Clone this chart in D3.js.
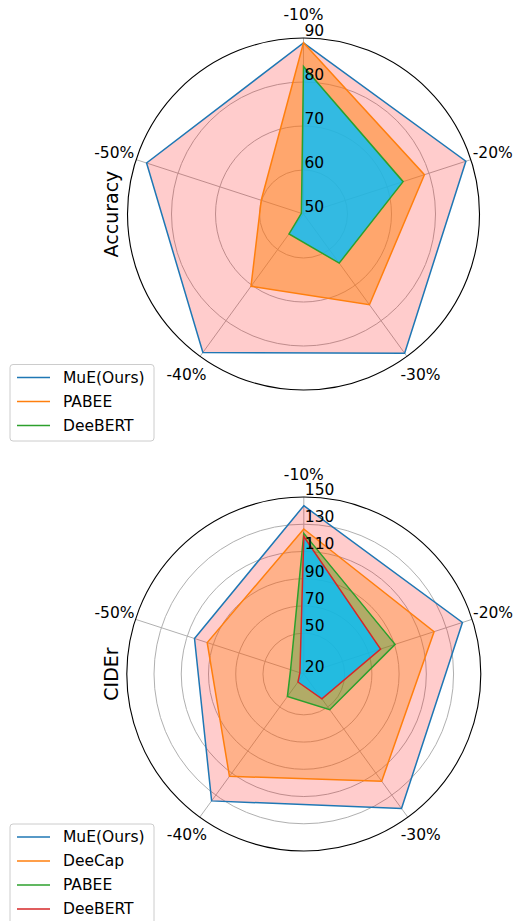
<!DOCTYPE html>
<html>
<head>
<meta charset="utf-8">
<script src="https://cdn.jsdelivr.net/npm/d3@7"></script>
<style>
  body { margin: 0; background: #fff; }
  svg { display: block; font-family: "DejaVu Sans", sans-serif; }
</style>
</head>
<body>
<div id="chart"></div>
<script>
// axis categories (clockwise from the top)
let axes = ["-10%", "-20%", "-30%", "-40%", "-50%"];

// top chart: accuracy
let accNames = ["MuE(Ours)", "PABEE", "DeeBERT"];
let accMuE = [88.9, 88.8, 89.1, 88.9, 87.5];
let accPABEE = [88.9, 78.9, 75.5, 70.3, 60.1];
let accDeeBERT = [83.5, 73.8, 63.8, 55.6, 50.5];
let accTicks = [50, 60, 70, 80, 90];

// bottom chart: CIDEr
let ciderNames = ["MuE(Ours)", "DeeCap", "PABEE", "DeeBERT"];
let ciderMuE = [143.6, 142.5, 142.1, 135.2, 104.4];
let ciderDeeCap = [126.5, 120.6, 117.3, 112.9, 94.6];
let ciderPABEE = [123.3, 90.5, 52.4, 40.5, 30.2];
let ciderDeeBERT = [121.0, 79.3, 42.6, 27.3, 23.0];
let ciderTicks = [20, 50, 70, 90, 110, 130, 150];

let width = 516, height = 921;
let svg = d3.select("#chart").append("svg")
    .attr("width", width)
    .attr("height", height);

function radar(opts) {
    let cx = opts.cx, cy = opts.cy, R = opts.R;
    let g = svg.append("g").attr("transform", `translate(${cx},${cy})`);
    let r = d3.scaleLinear().domain(opts.domain).range([0, R]);
    let angle = d3.scalePoint().domain(axes).range([0, 2 * Math.PI * 4 / 5]);

    // grid rings
    g.selectAll("circle.ring")
        .data(opts.ticks.filter(t => r(t) > 0 && r(t) < R - 0.5))
        .join("circle")
        .attr("class", "ring")
        .attr("r", d => r(d))
        .attr("fill", "none")
        .attr("stroke", "#b0b0b0")
        .attr("stroke-width", 1);

    // spokes
    g.selectAll("line.spoke")
        .data(axes)
        .join("line")
        .attr("x2", d => R * Math.sin(angle(d)))
        .attr("y2", d => -R * Math.cos(angle(d)))
        .attr("stroke", "#b0b0b0")
        .attr("stroke-width", 1);

    let line = d3.lineRadial()
        .angle((d, i) => angle(axes[i]))
        .radius(d => r(d))
        .curve(d3.curveLinearClosed);

    // fills first, lines on top (like matplotlib zorder)
    opts.series.forEach(s => {
        g.append("path")
            .attr("d", line(s.values))
            .attr("fill", s.fill)
            .attr("fill-opacity", s.fillOpacity)
            .attr("stroke", "none");
    });
    opts.series.forEach(s => {
        g.append("path")
            .attr("d", line(s.values))
            .attr("fill", "none")
            .attr("stroke", s.color)
            .attr("stroke-width", 1.5)
            .attr("stroke-linejoin", "miter");
    });

    // outer spine
    g.append("circle")
        .attr("r", R)
        .attr("fill", "none")
        .attr("stroke", "#000")
        .attr("stroke-width", 1.1);

    // radial tick labels
    g.selectAll("text.rtick")
        .data(opts.ticks)
        .join("text")
        .attr("x", 1)
        .attr("y", d => -r(d) - 2)
        .attr("font-size", 15.5)
        .attr("fill", "#000")
        .text(d => d);

    // angular labels
    g.selectAll("text.theta")
        .data(axes)
        .join("text")
        .attr("x", d => 199 * Math.sin(angle(d)))
        .attr("y", d => -199 * Math.cos(angle(d)))
        .attr("text-anchor", "middle")
        .attr("dominant-baseline", "central")
        .attr("font-size", 15.5)
        .text(d => d);

    // y label
    svg.append("text")
        .attr("transform", `translate(111,${cy}) rotate(-90)`)
        .attr("text-anchor", "middle")
        .attr("dominant-baseline", "central")
        .attr("font-size", 19)
        .text(opts.label);

    // legend
    let lg = svg.append("g").attr("transform", `translate(10,${opts.legendY})`);
    let rowH = 24;
    lg.append("rect")
        .attr("width", 144)
        .attr("height", opts.legendH)
        .attr("rx", 3)
        .attr("fill", "#fff")
        .attr("fill-opacity", 0.8)
        .attr("stroke", "#cccccc")
        .attr("stroke-width", 1);
    let rows = lg.selectAll("g.row")
        .data(opts.series)
        .join("g")
        .attr("transform", (d, i) => `translate(0,${13 + i * rowH})`);
    rows.append("line")
        .attr("x1", 7).attr("x2", 40)
        .attr("stroke", d => d.color)
        .attr("stroke-width", 1.5);
    rows.append("text")
        .attr("x", 53)
        .attr("dominant-baseline", "central")
        .attr("font-size", 15.5)
        .text(d => d.name);
}

radar({
    cx: 303.5, cy: 214, R: 176,
    domain: [50, 90], ticks: accTicks, label: "Accuracy",
    legendY: 364.5, legendH: 76.5,
    series: [
        {name: accNames[0], values: accMuE, color: "#1f77b4", fill: "red", fillOpacity: 0.2},
        {name: accNames[1], values: accPABEE, color: "#ff7f0e", fill: "#ff7f0e", fillOpacity: 0.5},
        {name: accNames[2], values: accDeeBERT, color: "#2ca02c", fill: "deepskyblue", fillOpacity: 0.8}
    ]
});

radar({
    cx: 303.8, cy: 674, R: 177,
    domain: [20, 150], ticks: ciderTicks, label: "CIDEr",
    legendY: 824, legendH: 110,
    series: [
        {name: ciderNames[0], values: ciderMuE, color: "#1f77b4", fill: "red", fillOpacity: 0.2},
        {name: ciderNames[1], values: ciderDeeCap, color: "#ff7f0e", fill: "#ff7f0e", fillOpacity: 0.35},
        {name: ciderNames[2], values: ciderPABEE, color: "#2ca02c", fill: "#2ca02c", fillOpacity: 0.37},
        {name: ciderNames[3], values: ciderDeeBERT, color: "#d62728", fill: "deepskyblue", fillOpacity: 0.8}
    ]
});
</script>
</body>
</html>
